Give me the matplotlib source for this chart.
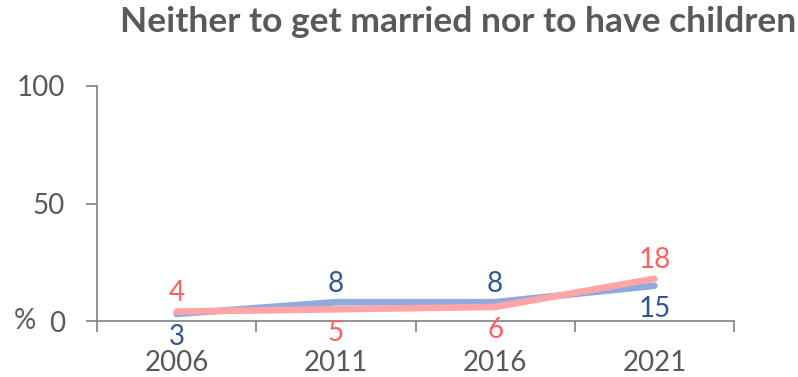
import matplotlib
matplotlib.use("Agg")
import matplotlib.pyplot as plt

years = ["2006", "2011", "2016", "2021"]
men = [3, 8, 8, 15]
women = [4, 5, 6, 18]
yticks = [0, 50, 100]

blue_line = "#8FAADC"
pink_line = "#FFA5A8"
blue_text = "#2F5597"
pink_text = "#FF5F5F"
grey = "#595959"

plt.rcParams["font.family"] = ["Lato", "DejaVu Sans"]

fig = plt.figure(figsize=(7.98, 3.77), dpi=100)
ax = fig.add_axes([97 / 798, 56 / 377, (734 - 97) / 798, (321 - 86) / 377])

x = [i + 0.5 for i in range(len(years))]
ax.plot(x, men, color=blue_line, lw=4.8, solid_capstyle="round", zorder=2)
ax.plot(x, women, color=pink_line, lw=4.8, solid_capstyle="round", zorder=3)

men_pos = ["below", "above", "above", "below"]
women_pos = ["above", "below", "below", "above"]
for vals, pos, col in ((men, men_pos, blue_text), (women, women_pos, pink_text)):
    for xi, v, p in zip(x, vals, pos):
        off = 15 if p == "above" else -15
        ax.annotate(str(v), (xi, v), xytext=(0, off), textcoords="offset points",
                    ha="center", va="center_baseline", fontsize=20, color=col)

ax.set_xlim(0, len(years))
ax.set_ylim(0, 100)
ax.set_xticks(range(len(years) + 1))
ax.set_xticklabels([])
ax.set_xticks(x, minor=True)
ax.set_xticklabels(years, minor=True)
ax.tick_params(axis="x", which="major", length=8, width=1.2, color="#808080", direction="out")
ax.tick_params(axis="x", which="minor", length=0, pad=21, labelsize=20, labelcolor=grey)
ax.set_yticks(yticks)
ax.set_yticklabels([str(t) for t in yticks])
ax.tick_params(axis="y", length=8, width=1.2, color="#808080", pad=15, labelsize=20, labelcolor=grey)

for s in ["top", "right"]:
    ax.spines[s].set_visible(False)
for s in ["left", "bottom"]:
    ax.spines[s].set_color("#808080")
    ax.spines[s].set_linewidth(1.2)

fig.text(25 / 798, 1 - 321 / 377, "%", fontsize=20, color=grey, ha="center", va="center")
fig.text(458 / 798, 1 - 22 / 377, "Neither to get married nor to have children",
         fontsize=25.5, fontweight="bold", color=grey, ha="center", va="center")

fig.savefig("out.png", dpi=100)
